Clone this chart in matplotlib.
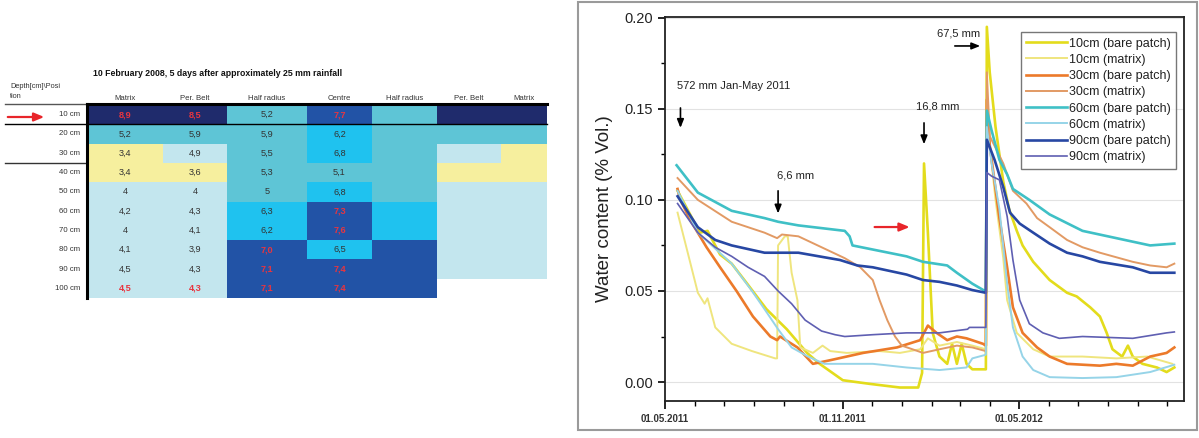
import numpy as np
import pandas as pd
import matplotlib
matplotlib.use("Agg")
import matplotlib.pyplot as plt
import matplotlib.dates as mdates
from matplotlib.colors import ListedColormap
from matplotlib.ticker import MultipleLocator, FixedLocator
from matplotlib.patches import Rectangle

plt.rcParams['font.family'] = ['Liberation Sans', 'DejaVu Sans']

# ---------------- Table data (left) ----------------
table_title = "10 February 2008, 5 days after approximately 25 mm rainfall"
col_headers = ["Matrix", "Per. Belt", "Half radius", "Centre", "Half radius", "Per. Belt", "Matrix"]
row_labels = ["10 cm", "20 cm", "30 cm", "40 cm", "50 cm", "60 cm", "70 cm", "80 cm", "90 cm", "100 cm"]
cell_classes = [
    "NNTBTNN",
    "TTTCTTT",
    "YLTCTLY",
    "YYTTTYY",
    "LLTCTLL",
    "LLCBCLL",
    "LLCBCLL",
    "LLBCBLL",
    "LLBBBLL",
    "LLBBBWW",
]
cell_values = [
    ["8,9", "8,5", "5,2", "7,7"],
    ["5,2", "5,9", "5,9", "6,2"],
    ["3,4", "4,9", "5,5", "6,8"],
    ["3,4", "3,6", "5,3", "5,1"],
    ["4", "4", "5", "6,8"],
    ["4,2", "4,3", "6,3", "7,3"],
    ["4", "4,1", "6,2", "7,6"],
    ["4,1", "3,9", "7,0", "6,5"],
    ["4,5", "4,3", "7,1", "7,4"],
    ["4,5", "4,3", "7,1", "7,4"],
]
cell_red = [
    [1, 1, 0, 1],
    [0, 0, 0, 0],
    [0, 0, 0, 0],
    [0, 0, 0, 0],
    [0, 0, 0, 0],
    [0, 0, 0, 1],
    [0, 0, 0, 1],
    [0, 0, 1, 0],
    [0, 0, 1, 1],
    [1, 1, 1, 1],
]
class_colors = {"W": "#ffffff", "L": "#c3e6ee", "Y": "#f6ef9e", "T": "#5ec5d6",
                "C": "#1fc2ef", "B": "#2253a6", "N": "#1f2b6c"}

# ---------------- Time series data (right) ----------------
start_date = "2011-05-01"
labels = ["10cm (bare patch)", "10cm (matrix)", "30cm (bare patch)", "30cm (matrix)",
          "60cm (bare patch)", "60cm (matrix)", "90cm (bare patch)", "90cm (matrix)"]

d_10b = [13, 26, 36, 44, 57, 69, 85, 105, 126, 147, 160, 184, 212, 243, 262, 266, 268, 272, 277, 284,
         292, 297, 302, 307, 312, 318, 329, 332, 333, 336, 342, 350, 356, 364, 370, 381, 398, 416, 426, 440,
         450, 457, 463, 473, 479, 484, 494, 509, 519, 527]
v_10b = [0.105, 0.092, 0.082, 0.083, 0.070, 0.065, 0.054, 0.040, 0.029, 0.016, 0.010, 0.001, -0.001, -0.003,
         -0.003, 0.005, 0.120, 0.082, 0.027, 0.014, 0.010, 0.021, 0.010, 0.021, 0.010, 0.007, 0.007, 0.007,
         0.195, 0.170, 0.140, 0.110, 0.095, 0.083, 0.075, 0.066, 0.056, 0.049, 0.047, 0.041, 0.036, 0.027,
         0.018, 0.014, 0.020, 0.014, 0.010, 0.008, 0.0055, 0.008]

d_10m = [13, 24, 34, 41, 44, 52, 69, 90, 114, 116, 117, 124, 127, 131, 137, 140, 153, 163, 171, 188,
         222, 243, 264, 272, 284, 302, 318, 332, 333, 336, 342, 350, 354, 364, 381, 398, 432, 467, 499, 525]
v_10m = [0.093, 0.070, 0.049, 0.043, 0.046, 0.030, 0.021, 0.017, 0.013, 0.013, 0.075, 0.080, 0.080, 0.060,
         0.045, 0.019, 0.016, 0.020, 0.017, 0.016, 0.017, 0.016, 0.018, 0.024, 0.020, 0.022, 0.020, 0.018,
         0.150, 0.130, 0.100, 0.068, 0.045, 0.027, 0.018, 0.014, 0.014, 0.013, 0.014, 0.010]

d_30b = [13, 16, 26, 43, 57, 74, 91, 109, 116, 119, 137, 153, 171, 205, 240, 264, 272, 281, 292, 302,
         312, 329, 332, 333, 336, 346, 354, 360, 370, 385, 398, 416, 450, 467, 484, 502, 519, 527]
v_30b = [0.106, 0.100, 0.089, 0.074, 0.063, 0.050, 0.036, 0.025, 0.023, 0.025, 0.019, 0.010, 0.012, 0.016,
         0.019, 0.023, 0.031, 0.027, 0.023, 0.025, 0.024, 0.021, 0.020, 0.155, 0.130, 0.090, 0.063, 0.041,
         0.027, 0.019, 0.014, 0.010, 0.009, 0.010, 0.009, 0.014, 0.016, 0.019]

d_30m = [13, 34, 69, 103, 116, 121, 138, 162, 186, 202, 215, 222, 230, 238, 245, 256, 267, 284, 302, 318,
         332, 333, 336, 350, 360, 374, 385, 398, 416, 432, 450, 484, 502, 519, 527]
v_30m = [0.112, 0.100, 0.088, 0.082, 0.079, 0.081, 0.080, 0.074, 0.068, 0.063, 0.056, 0.045, 0.034, 0.025,
         0.020, 0.018, 0.016, 0.018, 0.020, 0.019, 0.017, 0.170, 0.135, 0.120, 0.105, 0.098, 0.090, 0.085,
         0.078, 0.074, 0.071, 0.066, 0.064, 0.063, 0.065]

d_60b = [12, 34, 69, 103, 117, 138, 186, 191, 194, 222, 250, 267, 292, 302, 318, 331, 332, 333, 338, 346,
         354, 360, 377, 398, 432, 467, 502, 527]
v_60b = [0.119, 0.104, 0.094, 0.090, 0.088, 0.086, 0.083, 0.080, 0.075, 0.072, 0.069, 0.066, 0.064, 0.060,
         0.054, 0.050, 0.050, 0.149, 0.138, 0.122, 0.114, 0.106, 0.100, 0.092, 0.083, 0.079, 0.075, 0.076]

d_60m = [13, 34, 69, 90, 103, 117, 131, 148, 165, 186, 215, 250, 284, 312, 318, 332, 333, 338, 346, 354,
         360, 370, 381, 398, 432, 467, 502, 527]
v_60m = [0.105, 0.082, 0.065, 0.050, 0.040, 0.029, 0.019, 0.014, 0.010, 0.010, 0.010, 0.008, 0.0066, 0.008,
         0.013, 0.015, 0.140, 0.120, 0.095, 0.054, 0.030, 0.014, 0.0066, 0.0027, 0.0022, 0.0027, 0.0055, 0.0095]

d_90b = [13, 34, 52, 69, 103, 117, 138, 181, 199, 215, 250, 267, 284, 302, 318, 332, 333, 341, 350, 357,
         367, 381, 398, 416, 432, 450, 484, 502, 527]
v_90b = [0.102, 0.085, 0.078, 0.075, 0.071, 0.071, 0.071, 0.067, 0.064, 0.063, 0.059, 0.056, 0.055, 0.053,
         0.0505, 0.049, 0.133, 0.122, 0.107, 0.093, 0.087, 0.082, 0.076, 0.071, 0.069, 0.066, 0.063, 0.060, 0.060]

d_90m = [13, 34, 52, 69, 86, 103, 117, 131, 145, 162, 176, 186, 215, 250, 284, 313, 315, 332, 333, 338,
         346, 354, 360, 367, 377, 391, 408, 432, 484, 519, 527]
v_90m = [0.098, 0.082, 0.074, 0.069, 0.063, 0.058, 0.050, 0.043, 0.034, 0.028, 0.026, 0.025, 0.026, 0.027,
         0.027, 0.029, 0.030, 0.030, 0.115, 0.113, 0.111, 0.091, 0.067, 0.045, 0.032, 0.027, 0.024, 0.025,
         0.024, 0.027, 0.0275]

series_days = [d_10b, d_10m, d_30b, d_30m, d_60b, d_60m, d_90b, d_90m]
series_vals = [v_10b, v_10m, v_30b, v_30m, v_60b, v_60m, v_90b, v_90m]
colors = ["#e3dc1c", "#efe57e", "#ec7a2a", "#e29a64", "#3fc0c6", "#96d4e8", "#2747a3", "#5f5fb2"]
widths = [1.9, 1.4, 1.9, 1.4, 1.9, 1.4, 1.9, 1.2]

# ---------------- Figure ----------------
W, H = 1199, 438
fig = plt.figure(figsize=(W / 100, H / 100), dpi=100)

# ---- left table, drawn in pixel-like coordinates ----
axt = fig.add_axes([0, 0, 580 / W, 1])
axt.set_xlim(0, 580)
axt.set_ylim(H, 0)
axt.axis("off")

col_edges = np.array([87, 163, 227, 307, 372, 437, 501, 547])
row_edges = np.linspace(105, 298, len(row_labels) + 1)
order = list(class_colors.keys())
codes = np.array([[order.index(c) for c in row] for row in cell_classes], dtype=float)
codes = np.ma.masked_equal(codes, order.index("W"))
cmap = ListedColormap([class_colors[k] for k in order])
axt.pcolormesh(col_edges, row_edges, codes, cmap=cmap, vmin=-0.5, vmax=len(order) - 0.5)

col_centers = (col_edges[:-1] + col_edges[1:]) / 2
row_centers = (row_edges[:-1] + row_edges[1:]) / 2
for i, rl in enumerate(row_labels):
    axt.text(80, row_centers[i], rl, ha="right", va="center", fontsize=5.6, color="#333333")
    for j, val in enumerate(cell_values[i]):
        red = cell_red[i][j]
        axt.text(col_centers[j], row_centers[i], val, ha="center", va="center", fontsize=6.6,
                 color="#e8353f" if red else "#333333", fontweight="bold" if red else "normal")
for j, h in enumerate(col_headers):
    axt.text(col_centers[j], 98, h, ha="center", va="center", fontsize=5.6, color="#333333")
axt.text(93, 73, table_title, ha="left", va="center", fontsize=6.3, fontweight="bold", color="#111111")
axt.text(10, 86, "Depth[cm]\\Posi", ha="left", va="center", fontsize=5.3, color="#333333")
axt.text(10, 96, "tion", ha="left", va="center", fontsize=5.3, color="#333333")
axt.plot([5, 87], [104, 104], color="#555555", lw=1)
axt.plot([87, 547], [104, 104], color="black", lw=2.2)
axt.plot([5, 547], [row_edges[1], row_edges[1]], color="black", lw=1)
axt.plot([5, 87], [row_edges[3], row_edges[3]], color="#333333", lw=1)
axt.plot([87, 87], [104, row_edges[-1]], color="black", lw=2.2)
axt.annotate("", xy=(47, 117), xytext=(5, 117),
             arrowprops=dict(arrowstyle="-|>,head_length=0.6,head_width=0.25", color="#e8252a", lw=1.6))

# ---- right panel frame ----
axf = fig.add_axes([0, 0, 1, 1])
axf.set_xlim(0, W)
axf.set_ylim(H, 0)
axf.axis("off")
axf.add_patch(Rectangle((578, 2), 619, 428, fill=False, edgecolor="#9a9a9a", lw=1.5))

# ---- right chart ----
ax = fig.add_axes([665 / W, (H - 401) / H, (1184 - 665) / W, (401 - 17) / H])
base = pd.Timestamp(start_date)
for d, v, c, lw, lab in zip(series_days, series_vals, colors, widths, labels):
    x = base + pd.to_timedelta(d, unit="D")
    ax.plot(x, v, color=c, lw=lw, label=lab)

ax.set_xlim(base, base + pd.Timedelta(days=537))
ax.set_ylim(-0.0104, 0.2004)
ax.yaxis.set_major_locator(FixedLocator([0.0, 0.05, 0.10, 0.15, 0.20]))
ax.yaxis.set_minor_locator(MultipleLocator(0.025))
ax.yaxis.set_major_formatter(matplotlib.ticker.FormatStrFormatter("%.2f"))
ax.xaxis.set_major_locator(mdates.MonthLocator(bymonth=[5, 11]))
ax.xaxis.set_minor_locator(mdates.MonthLocator())
ax.xaxis.set_major_formatter(mdates.DateFormatter("%d.%m.%Y"))
ax.tick_params(axis="y", which="major", direction="out", length=5, width=1.2, labelsize=10.5,
               labelcolor="#222222")
ax.tick_params(axis="y", which="minor", direction="out", length=3, width=1)
ax.tick_params(axis="x", which="major", direction="out", length=6, width=1.2, labelsize=7,
               labelcolor="#333333")
ax.tick_params(axis="x", which="minor", direction="out", length=3.5, width=1)
for lbl in ax.get_xticklabels():
    lbl.set_fontweight("bold")
for s in ax.spines.values():
    s.set_linewidth(1.3)
    s.set_color("#222222")
ax.grid(axis="y", which="major", color="#e2e2e2", lw=0.8)
ax.set_axisbelow(True)
ax.set_ylabel("Water content (% Vol.)", fontsize=13.5, color="#222222", labelpad=8)

def dn(days):
    return mdates.date2num(base + pd.Timedelta(days=days))

arrow_kw = dict(arrowstyle="-|>,head_length=0.5,head_width=0.2", color="black", lw=1.2)
ax.text(dn(12), 0.1625, "572 mm Jan-May 2011", fontsize=8, ha="left", va="center", color="#222222")
ax.annotate("", xy=(dn(16), 0.138), xytext=(dn(16), 0.152), arrowprops=arrow_kw)
ax.text(dn(116), 0.1136, "6,6 mm", fontsize=8, ha="left", va="center", color="#222222")
ax.annotate("", xy=(dn(117), 0.091), xytext=(dn(117), 0.1065), arrowprops=arrow_kw)
ax.text(dn(260), 0.151, "16,8 mm", fontsize=8, ha="left", va="center", color="#222222")
ax.annotate("", xy=(dn(268), 0.129), xytext=(dn(268), 0.1438), arrowprops=arrow_kw)
ax.text(dn(281), 0.1916, "67,5 mm", fontsize=8, ha="left", va="center", color="#222222")
ax.annotate("", xy=(dn(329), 0.1845), xytext=(dn(297), 0.1845), arrowprops=arrow_kw)
ax.annotate("", xy=(dn(256), 0.0851), xytext=(dn(214), 0.0851),
            arrowprops=dict(arrowstyle="-|>,head_length=0.6,head_width=0.25", color="#e8252a", lw=1.6))

leg = ax.legend(loc="upper right", bbox_to_anchor=(0.9846, 0.961), fontsize=9, frameon=True,
                fancybox=False, edgecolor="#555555", labelspacing=0.34, handlelength=3.3,
                handletextpad=0.1, borderpad=0.45, borderaxespad=0)
leg.get_frame().set_linewidth(1.0)
for t in leg.get_texts():
    t.set_color("#222222")

fig.savefig("out.png", dpi=100)
